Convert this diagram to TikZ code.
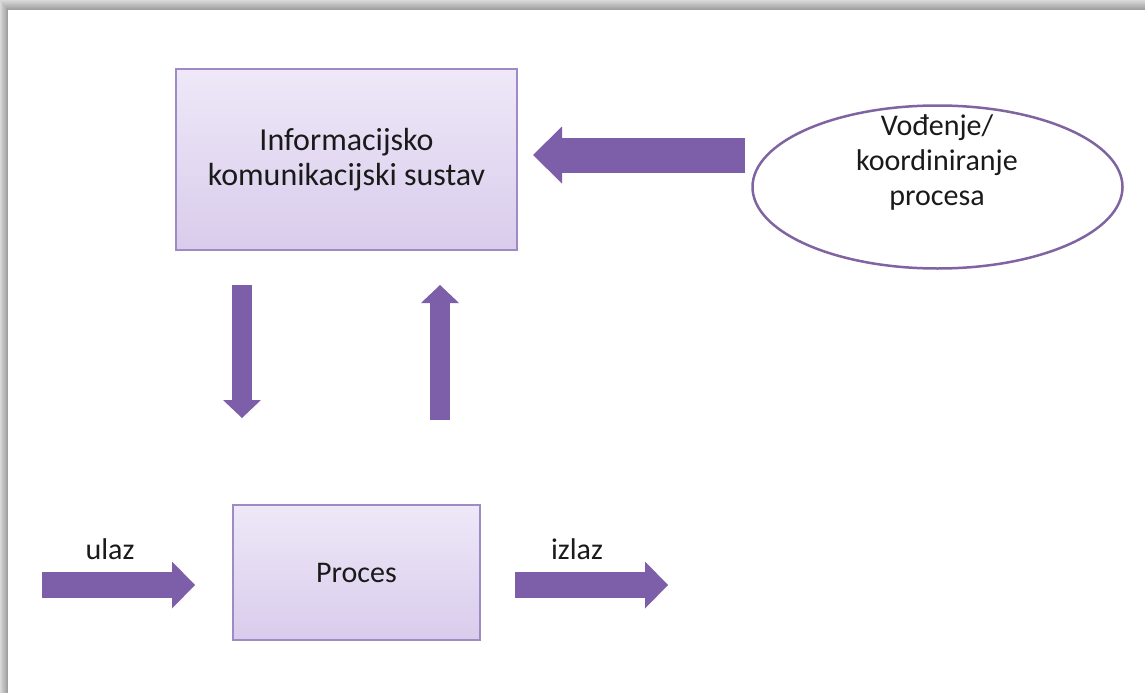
\documentclass[tikz,border=0pt]{standalone}
\usepackage{fontspec}
\setmainfont{Carlito}
\usetikzlibrary{shapes.geometric, arrows.meta}

\definecolor{boxtop}{HTML}{EEE8F8}
\definecolor{boxbot}{HTML}{D9CCEC}
\definecolor{boxline}{HTML}{A08AC4}
\definecolor{arrowfill}{HTML}{7D5EA8}
\definecolor{ovalline}{HTML}{8064A2}
\definecolor{txt}{HTML}{1A1A1A}

\begin{document}
\begin{tikzpicture}[x=1pt, y=-1pt,
  box/.style = {rectangle, draw=boxline, line width=1.5pt, top color=boxtop, bottom color=boxbot},
  oval/.style = {ellipse, draw=ovalline, line width=2.5pt, fill=white},
  txtstyle/.style = {text=txt, font=\fontsize{30}{35}\selectfont, align=center},
  bigarrow/.style n args = {3}{draw=arrowfill, line width=#1,
    -{Triangle[width=#2, length=#3, line width=0pt]}}]

  \useasboundingbox (0,0) rectangle (1145,693);

  % frame shadow
  \foreach \i in {0,...,9}{
    \pgfmathsetmacro\g{15+2.5*\i}
    \fill[black!\g] ({0.8*\i},\i) rectangle (1145,693);
  }
  \fill[white] (8,10) rectangle (1145,693);

  \node[box, txtstyle, font=\fontsize{32}{35}\selectfont, minimum width=341pt, minimum height=181pt] (info) at (346.5,159.5) {Informacijsko\\komunikacijski sustav};
  \node[oval, minimum width=370pt, minimum height=163pt] (vodenje) at (937.5,187) {};
  \node[txtstyle] (vodenjetxt) at (937,162) {Vođenje/\\koordiniranje\\procesa};
  \node[box, txtstyle, minimum width=247pt, minimum height=135pt] (proces) at (356.5,572.5) {Proces};
  \node[txtstyle] (ulaz) at (110,549) {ulaz};
  \node[txtstyle] (izlaz) at (577,549) {izlaz};

  \coordinate (vodenjeout) at (745,155);
  \coordinate (infoin) at (533,155);
  \coordinate (infoout) at (242,285);
  \coordinate (procesin) at (242,418);
  \coordinate (procesout) at (440,420);
  \coordinate (infoback) at (440,285);
  \coordinate (ulazstart) at (42,585);
  \coordinate (ulazend) at (195,585);
  \coordinate (izlazstart) at (515,585);
  \coordinate (izlazend) at (668,585);

  \draw[bigarrow={35pt}{57pt}{29pt}] (vodenjeout) -- (infoin);
  \draw[bigarrow={20pt}{38pt}{18pt}] (infoout) -- (procesin);
  \draw[bigarrow={20pt}{38pt}{18pt}] (procesout) -- (infoback);
  \draw[bigarrow={26pt}{47pt}{23pt}] (ulazstart) -- (ulazend);
  \draw[bigarrow={26pt}{47pt}{23pt}] (izlazstart) -- (izlazend);
\end{tikzpicture}
\end{document}
